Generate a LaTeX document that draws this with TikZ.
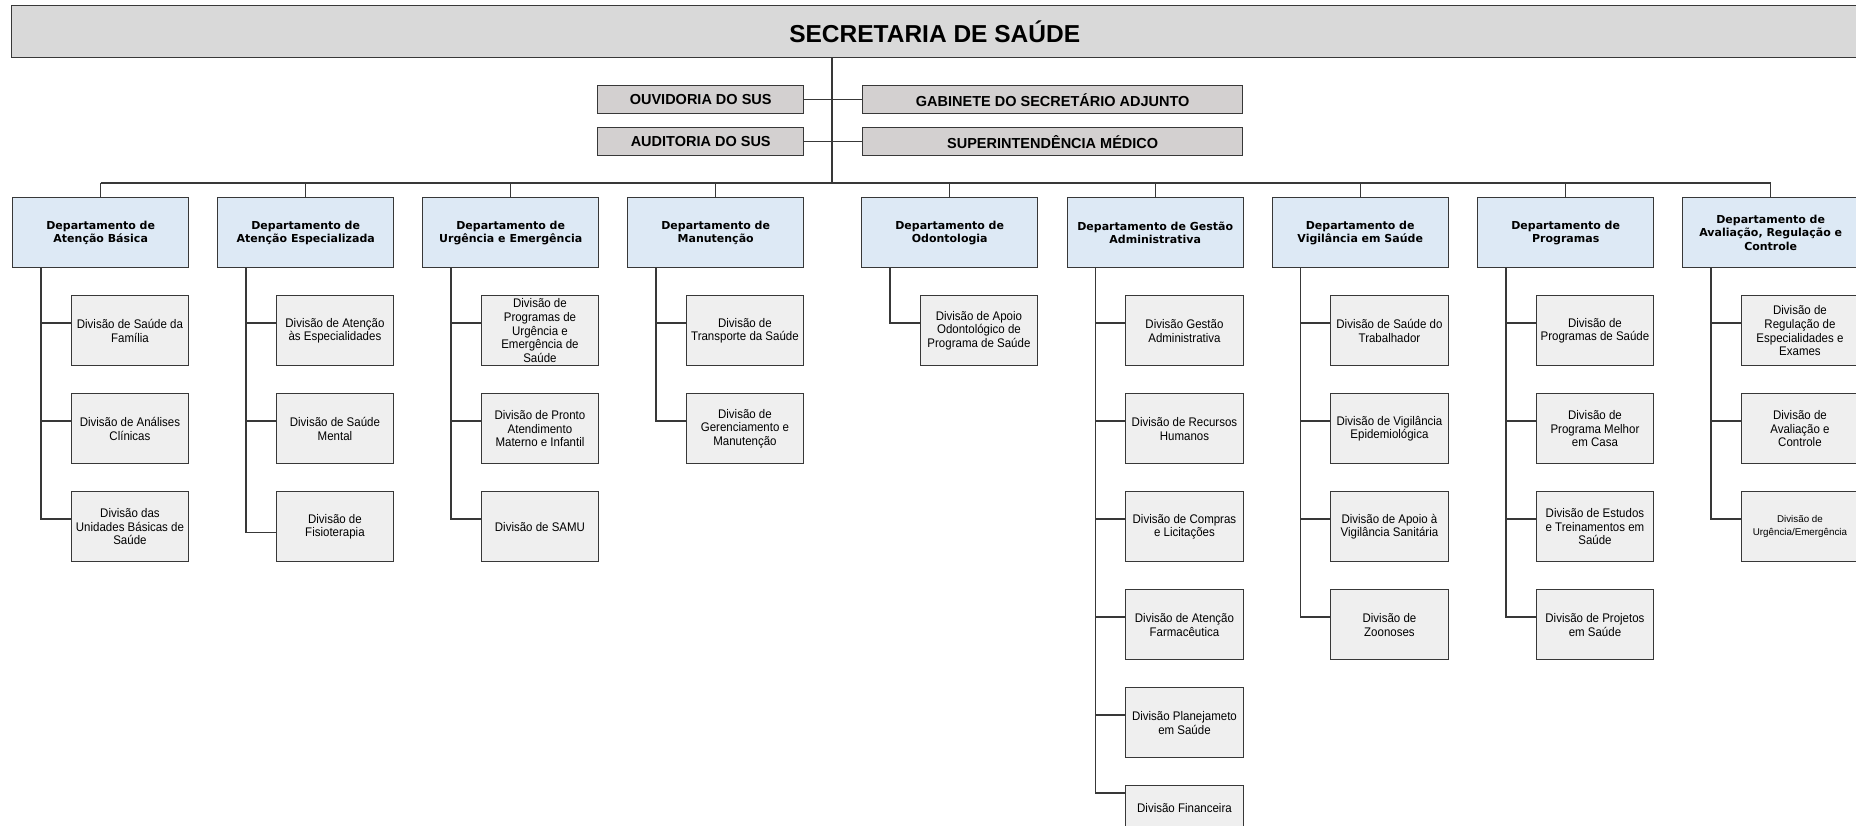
\documentclass[tikz,border=0pt]{standalone}
\usepackage{fontspec}
\setmainfont{Liberation Sans}
\newfontfamily\deptfont{DejaVu Sans}
\newfontfamily\divfont[FakeStretch=0.92]{Liberation Sans}
\usetikzlibrary{calc}
\definecolor{titlegray}{HTML}{D9D9D9}
\definecolor{midgray}{HTML}{D3D0D0}
\definecolor{deptblue}{HTML}{DDE9F5}
\definecolor{divgray}{HTML}{EFEFEF}
\definecolor{edge}{HTML}{383838}
\tikzset{
 box/.style={draw=edge, line width=1.4pt, anchor=north west, inner sep=0pt, align=center},
 titlebox/.style={box, fill=titlegray, minimum width=1846pt, minimum height=52pt, font=\fontsize{24.5}{28}\selectfont\bfseries},
 midbox/.style={box, fill=midgray, minimum height=28pt, font=\fontsize{14.5}{17}\selectfont\bfseries},
 deptbox/.style={box, fill=deptblue, minimum width=176pt, minimum height=70pt, font=\deptfont\bfseries\fontsize{11}{13.3}\selectfont},
 divbox/.style={box, fill=divgray, minimum width=117.5pt, minimum height=70pt, font=\divfont\fontsize{12.5}{13.7}\selectfont},
 link/.style={draw=edge, line width=1.4pt},
}
\begin{document}
\begin{tikzpicture}[x=1pt,y=-1pt]
\useasboundingbox (0,0) rectangle (1856,826);
% top
\node[titlebox] (title) at (11,5) {SECRETARIA DE SAÚDE};
\node[midbox, minimum width=206pt] (ouv) at (597,85) {OUVIDORIA DO SUS};
\node[midbox, minimum width=206pt] (aud) at (597,127) {AUDITORIA DO SUS};
\node[midbox, minimum width=380pt] (gab) at (862,85) {GABINETE DO SECRETÁRIO ADJUNTO};
\node[midbox, minimum width=380pt] (sup) at (862,127) {SUPERINTENDÊNCIA MÉDICO};
\coordinate (bus) at (832,183);
% departments
\node[deptbox] (d1) at (12,197) {Departamento de\\Atenção Básica};
\node[deptbox] (d2) at (217,197) {Departamento de\\Atenção Especializada};
\node[deptbox] (d3) at (422,197) {Departamento de\\Urgência e Emergência};
\node[deptbox] (d4) at (627,197) {Departamento de\\Manutenção};
\node[deptbox] (d5) at (861,197) {Departamento de\\Odontologia};
\node[deptbox] (d6) at (1066.5,197) {Departamento de Gestão\\Administrativa};
\node[deptbox] (d7) at (1271.5,197) {Departamento de\\Vigilância em Saúde};
\node[deptbox] (d8) at (1477,197) {Departamento de\\Programas};
\node[deptbox] (d9) at (1682,197) {Departamento de\\Avaliação, Regulação e\\Controle};
% divisions
\node[divbox] (v11) at (70.5,295) {Divisão de Saúde da\\Família};
\node[divbox] (v12) at (70.5,393) {Divisão de Análises\\Clínicas};
\node[divbox] (v13) at (70.5,491) {Divisão das\\Unidades Básicas de\\Saúde};
\node[divbox] (v21) at (275.5,295) {Divisão de Atenção\\às Especialidades};
\node[divbox] (v22) at (275.5,393) {Divisão de Saúde\\Mental};
\node[divbox] (v23) at (275.5,491) {Divisão de\\Fisioterapia};
\node[divbox] (v31) at (480.5,295) {Divisão de\\Programas de\\Urgência e\\Emergência de\\Saúde};
\node[divbox] (v32) at (480.5,393) {Divisão de Pronto\\Atendimento\\Materno e Infantil};
\node[divbox] (v33) at (480.5,491) {Divisão de SAMU};
\node[divbox] (v41) at (685.5,295) {Divisão de\\Transporte da Saúde};
\node[divbox] (v42) at (685.5,393) {Divisão de\\Gerenciamento e\\Manutenção};
\node[divbox] (v51) at (919.5,295) {Divisão de Apoio\\Odontológico de\\Programa de Saúde};
\node[divbox] (v61) at (1125,295) {Divisão Gestão\\Administrativa};
\node[divbox] (v62) at (1125,393) {Divisão de Recursos\\Humanos};
\node[divbox] (v63) at (1125,491) {Divisão de Compras\\e Licitações};
\node[divbox] (v64) at (1125,589) {Divisão de Atenção\\Farmacêutica};
\node[divbox] (v65) at (1125,687) {Divisão Planejameto\\em Saúde};
\node[divbox, minimum height=44pt] (v66) at (1125,785) {Divisão Financeira};
\node[divbox] (v71) at (1330,295) {Divisão de Saúde do\\Trabalhador};
\node[divbox] (v72) at (1330,393) {Divisão de Vigilância\\Epidemiológica};
\node[divbox] (v73) at (1330,491) {Divisão de Apoio à\\Vigilância Sanitária};
\node[divbox] (v74) at (1330,589) {Divisão de\\Zoonoses};
\node[divbox] (v81) at (1535.5,295) {Divisão de\\Programas de Saúde};
\node[divbox] (v82) at (1535.5,393) {Divisão de\\Programa Melhor\\em Casa};
\node[divbox] (v83) at (1535.5,491) {Divisão de Estudos\\e Treinamentos em\\Saúde};
\node[divbox] (v84) at (1535.5,589) {Divisão de Projetos\\em Saúde};
\node[divbox] (v91) at (1740.5,295) {Divisão de\\Regulação de\\Especialidades e\\Exames};
\node[divbox] (v92) at (1740.5,393) {Divisão de\\Avaliação e\\Controle};
\node[divbox, font=\fontsize{9.8}{12.5}\selectfont] (v93) at (1740.5,491) {Divisão de\\Urgência/Emergência};
% top connectors
\draw[link] (title.south -| bus) -- (bus);
\draw[link] (ouv.east) -- (gab.west);
\draw[link] (aud.east) -- (sup.west);
\draw[link] (d1.north |- bus) -- (d9.north |- bus);
\foreach \d in {d1,d2,d3,d4,d5,d6,d7,d8,d9}{
  \draw[link] (\d.north |- bus) -- (\d.north);
}
% stems
\foreach \d/\v/\o in {d1/v11/28,d1/v12/28,d1/v13/28,
                      d2/v21/28,d2/v22/28,d2/v23/41.7,
                      d3/v31/28,d3/v32/28,d3/v33/28,
                      d4/v41/28,d4/v42/28,
                      d5/v51/28,
                      d6/v61/28,d6/v62/28,d6/v63/28,d6/v64/28,d6/v65/28,d6/v66/8,
                      d7/v71/28,d7/v72/28,d7/v73/28,d7/v74/28,
                      d8/v81/28,d8/v82/28,d8/v83/28,d8/v84/28,
                      d9/v91/28,d9/v92/28,d9/v93/28}{
  \draw[link] ($(\d.south west)+(29,0)$) |- ($(\v.north west)+(0,\o)$);
}
\end{tikzpicture}
\end{document}
